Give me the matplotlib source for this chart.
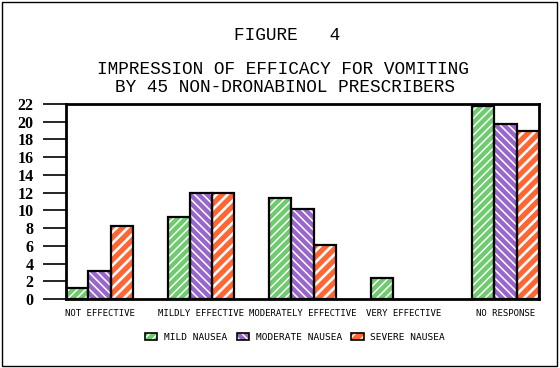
import matplotlib
matplotlib.use("Agg")
import matplotlib.pyplot as plt
from matplotlib.patches import Rectangle, Patch
from matplotlib.legend_handler import HandlerTuple
import numpy as np

categories = ["NOT EFFECTIVE", "MILDLY EFFECTIVE", "MODERATELY EFFECTIVE",
              "VERY EFFECTIVE", "NO RESPONSE"]
series_names = ["MILD NAUSEA", "MODERATE NAUSEA", "SEVERE NAUSEA"]
mild = [1.2, 9.2, 11.35, 2.35, 21.8]
moderate = [3.2, 12.0, 10.1, 0.0, 19.8]
severe = [8.2, 12.0, 6.05, 0.0, 18.9]
yticks = list(range(0, 23, 2))

title_fig = "FIGURE   4"
title_1 = "IMPRESSION OF EFFICACY FOR VOMITING"
title_2 = "BY 45 NON-DRONABINOL PRESCRIBERS"

colors = ["#6ecb6e", "#9966cc", "#ff6633"]
hatches = ["////", "\\\\\\\\", "///"]
hatch_lw = [1.1, 1.1, 1.9]

W, H = 560, 368
fig = plt.figure(figsize=(W / 100, H / 100), dpi=100)
ax = fig.add_axes([66 / W, 1 - 299 / H, (539 - 66) / W, (299 - 104) / H])

x = np.arange(len(categories))
w = 0.22
series = [mild, moderate, severe]
handles = []
for j, (vals, col, hat, hlw) in enumerate(zip(series, colors, hatches, hatch_lw)):
    pos = x + (j - 1) * w
    mask = [v > 0 for v in vals]
    with plt.rc_context({"hatch.linewidth": hlw}):
        ax.bar(pos[mask], np.array(vals)[mask], width=w, color=col,
               edgecolor="white", hatch=hat, linewidth=0, zorder=2)
    ax.bar(pos[mask], np.array(vals)[mask], width=w, fill=False,
           edgecolor="black", linewidth=1.6, zorder=3)
    with plt.rc_context({"hatch.linewidth": hlw}):
        pf = Patch(facecolor=col, edgecolor="white", hatch=hat, linewidth=0)
    pe = Patch(fill=False, edgecolor="black", linewidth=1.2)
    handles.append((pf, pe))

ax.set_xlim(-1.5 * w, len(categories) - 1 + 1.5 * w)
ax.set_ylim(0, 22)
ax.set_yticks(yticks)
ax.set_yticklabels([str(v) for v in yticks], fontfamily="Liberation Serif",
                   fontweight="bold", fontsize=11.5)
ax.tick_params(axis="y", direction="out", length=16.5, width=1.2, pad=7)
ax.set_xticks(x)
ax.set_xticklabels(categories, fontfamily="DejaVu Sans Mono", fontsize=6.5)
ax.tick_params(axis="x", length=0, pad=7)
for s in ax.spines.values():
    s.set_linewidth(2)

fig.text(287 / W, 1 - 35 / H, title_fig, ha="center", va="center",
         fontfamily="Liberation Mono", fontsize=12.8)
fig.text(283 / W, 1 - 70 / H, title_1, ha="center", va="center",
         fontfamily="Liberation Mono", fontsize=12.8)
fig.text(285 / W, 1 - 88 / H, title_2, ha="center", va="center",
         fontfamily="Liberation Mono", fontsize=12.8)

fig.legend(handles, series_names, handler_map={tuple: HandlerTuple(ndivide=1)},
           loc="center", bbox_to_anchor=(295 / W, 1 - 337 / H), ncol=3,
           frameon=False, prop={"family": "DejaVu Sans Mono", "size": 6.8},
           handlelength=1.3, handleheight=0.8, handletextpad=0.7,
           columnspacing=1.0)

fig.patches.append(Rectangle((1.5 / W, 1 - 366 / H), (557 - 1.5) / W, (366 - 1.5) / H,
                             transform=fig.transFigure, fill=False,
                             edgecolor="black", linewidth=1.0))

fig.savefig("out.png", dpi=100)
